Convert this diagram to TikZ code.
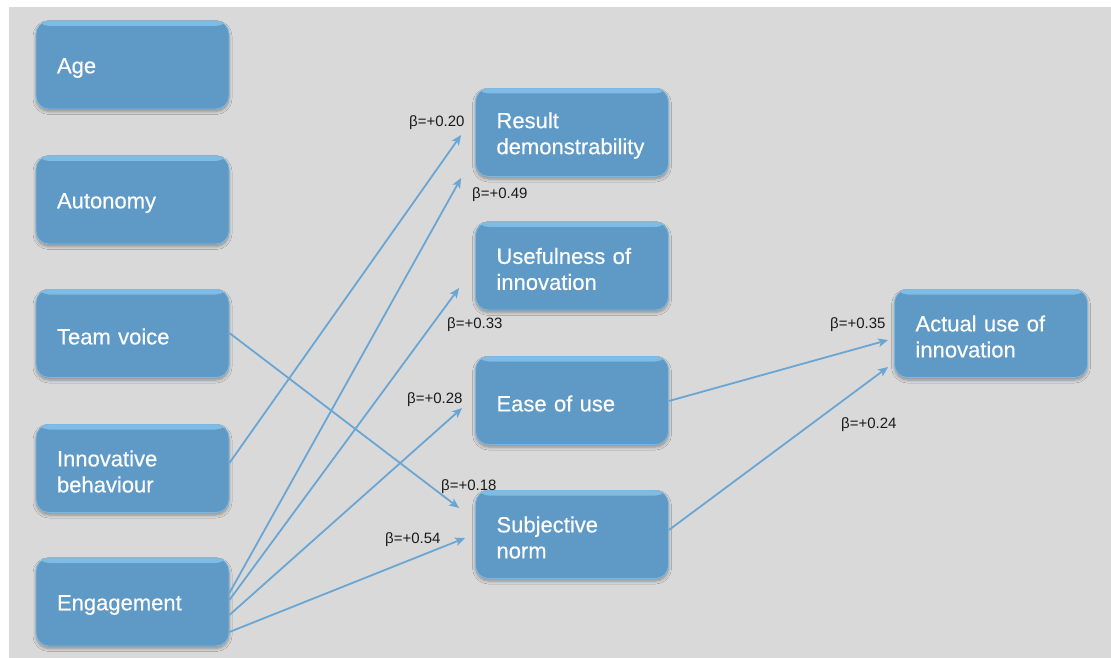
\documentclass[tikz,border=0pt]{standalone}
\usepackage{fontspec}
\setmainfont{Liberation Sans}
\usetikzlibrary{arrows.meta,shadows.blur}

\definecolor{canvasgray}{HTML}{D9D9D9}
\definecolor{boxblue}{HTML}{5F9AC6}
\definecolor{boxhigh}{HTML}{8CCDF3}
\definecolor{boxrim}{HTML}{7DB8E2}
\definecolor{linkblue}{HTML}{6AA6D4}
\definecolor{labelink}{HTML}{1A1A1A}

\tikzset{
  factor/.style={
    rectangle, rounded corners=13pt,
    minimum width=193pt, minimum height=88pt, inner sep=0pt,
    fill=boxblue, draw=boxrim, line width=0.8pt,
    path picture={
      % soft light bevel along the top edge
      \shade[top color=boxhigh!70!boxblue, bottom color=boxblue, shading angle=0]
        ([yshift=1pt]path picture bounding box.north west) rectangle
        ([yshift=-5pt]path picture bounding box.north east);
    },
    blur shadow={shadow xshift=0pt, shadow yshift=-2.5pt,
                 shadow opacity=35, shadow blur steps=6, shadow blur radius=3pt}
  },
  caption/.style={
    text width=153pt, inner xsep=0pt, inner ysep=0pt,
    align=left, text=white,
    font=\fontsize{22}{26}\selectfont\addfontfeature{FakeBold=0.4}
  },
  link/.style={
    draw=linkblue, line width=1.8pt,
    -{Stealth[length=10pt,width=8.5pt,inset=2.5pt]}
  },
  beta/.style={
    anchor=base west, inner sep=0pt, text=labelink,
    font=\fontsize{15}{18}\selectfont
  }
}

\begin{document}
\begin{tikzpicture}[x=1pt,y=-1pt]
  % canvas
  \useasboundingbox (0,0) rectangle (1111,658);
  \fill[white] (0,0) rectangle (1111,658);
  \fill[canvasgray] (9,7) rectangle (1111,658);

  % antecedents
  \node[factor] (age)   at (132.5,65)    {};
  \node[factor] (aut)   at (132.5,200)   {};
  \node[factor] (team)  at (132.5,333.5) {};
  \node[factor] (innov) at (132.5,468.5) {};
  \node[factor] (eng)   at (132.5,602)   {};

  % perceptions
  \node[factor] (res)   at (572,132.5) {};
  \node[factor] (use)   at (572,266)   {};
  \node[factor] (ease)  at (572,400.5) {};
  \node[factor] (subj)  at (572,534.5) {};

  % outcome
  \node[factor] (act)   at (991,333.5) {};

  % box captions, set a little below each box centre
  \node[caption] (age-t)   at ([xshift=1pt,yshift=-3pt]age.center)   {Age};
  \node[caption] (aut-t)   at ([xshift=1pt,yshift=-3pt]aut.center)   {Autonomy};
  \node[caption] (team-t)  at ([xshift=1pt,yshift=-3pt]team.center)  {Team voice};
  \node[caption] (innov-t) at ([xshift=1pt,yshift=-3pt]innov.center) {Innovative\\behaviour};
  \node[caption] (eng-t)   at ([xshift=1pt,yshift=-3pt]eng.center)   {Engagement};
  \node[caption] (res-t)   at ([xshift=1pt,yshift=-3pt]res.center)   {Result\\demonstrability};
  \node[caption] (use-t)   at ([xshift=1pt,yshift=-3pt]use.center)   {Usefulness of\\innovation};
  \node[caption] (ease-t)  at ([xshift=1pt,yshift=-3pt]ease.center)  {Ease of use};
  \node[caption] (subj-t)  at ([xshift=1pt,yshift=-3pt]subj.center)  {Subjective\\norm};
  \node[caption] (act-t)   at ([xshift=1pt,yshift=-3pt]act.center)   {Actual use of\\innovation};

  % paths
  \draw[link] ([yshift=5.5pt]innov.east) -- ([xshift=-14pt,yshift=-2.5pt]res.west);
  \draw[link] ([yshift=9pt]eng.east)     -- ([xshift=-14pt,yshift=-45.5pt]res.west);
  \draw[link] ([yshift=2pt]eng.east)     -- ([xshift=-16pt,yshift=-22pt]use.west);
  \draw[link] ([yshift=-13pt]eng.east)   -- ([xshift=-13pt,yshift=-7.5pt]ease.west);
  \draw[link] ([yshift=-30pt]eng.east)   -- ([xshift=-10pt,yshift=-3.5pt]subj.west);
  \draw[link] ([yshift=0.5pt]team.east)  -- ([xshift=-16pt,yshift=26.5pt]subj.west);
  \draw[link] ([yshift=-0.5pt]ease.east) -- ([xshift=-6pt,yshift=-6.5pt]act.west);
  \draw[link] ([yshift=4.5pt]subj.east)  -- ([xshift=-6pt,yshift=-33.5pt]act.west);

  % path coefficients
  \node[beta] (b1) at (409,127) {β=+0.20};
  \node[beta] (b2) at (472,198) {β=+0.49};
  \node[beta] (b3) at (447,328) {β=+0.33};
  \node[beta] (b4) at (407,403) {β=+0.28};
  \node[beta] (b5) at (441,490) {β=+0.18};
  \node[beta] (b6) at (385,543) {β=+0.54};
  \node[beta] (b7) at (830,328) {β=+0.35};
  \node[beta] (b8) at (841,428) {β=+0.24};
\end{tikzpicture}
\end{document}
